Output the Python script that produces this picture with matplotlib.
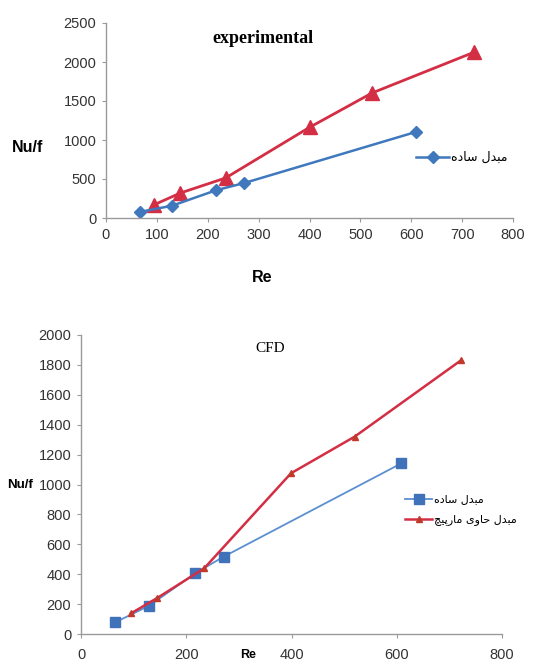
import matplotlib
matplotlib.use("Agg")
import matplotlib.pyplot as plt

# ---------------- data ----------------
exp_plain_re = [66, 130, 216, 272, 609]
exp_plain_nu = [77, 158, 355, 449, 1103]
exp_coil_re = [95, 146, 235, 400, 523, 723]
exp_coil_nu = [171, 320, 513, 1162, 1603, 2124]

cfd_plain_re = [65, 130, 217, 271, 609]
cfd_plain_nu = [78, 190, 406, 517, 1142]
cfd_coil_re = [95, 144, 234, 399, 520, 723]
cfd_coil_nu = [138, 239, 439, 1075, 1320, 1833]

label_plain = "مبدل ساده"
label_coil = "مبدل حاوی مارپیچ"
title_top = "experimental"
title_bottom = "CFD"
xlabel = "Re"
ylabel = "Nu/f"

top_xticks = [0, 100, 200, 300, 400, 500, 600, 700, 800]
top_yticks = [0, 500, 1000, 1500, 2000, 2500]
bot_xticks = [0, 200, 400, 600, 800]
bot_yticks = list(range(0, 2001, 200))

# ------------- Arabic/Persian shaping for display -------------
FORMS = {
    'ا': (0xFE8D, 0xFE8E, None, None),
    'ب': (0xFE8F, 0xFE90, 0xFE91, 0xFE92),
    'پ': (0xFB56, 0xFB57, 0xFB58, 0xFB59),
    'ج': (0xFE9D, 0xFE9E, 0xFE9F, 0xFEA0),
    'چ': (0xFB7A, 0xFB7B, 0xFB7C, 0xFB7D),
    'ح': (0xFEA1, 0xFEA2, 0xFEA3, 0xFEA4),
    'د': (0xFEA9, 0xFEAA, None, None),
    'ر': (0xFEAD, 0xFEAE, None, None),
    'س': (0xFEB1, 0xFEB2, 0xFEB3, 0xFEB4),
    'ل': (0xFEDD, 0xFEDE, 0xFEDF, 0xFEE0),
    'م': (0xFEE1, 0xFEE2, 0xFEE3, 0xFEE4),
    'ه': (0xFEE9, 0xFEEA, 0xFEEB, 0xFEEC),
    'و': (0xFEED, 0xFEEE, None, None),
    'ی': (0xFBFC, 0xFBFD, 0xFBFE, 0xFBFF),
}


def shape(text):
    out = []
    n = len(text)
    for i, ch in enumerate(text):
        if ch not in FORMS:
            out.append(ch)
            continue
        iso, fin, ini, med = FORMS[ch]
        prev = text[i - 1] if i > 0 else None
        nxt = text[i + 1] if i < n - 1 else None
        pj = prev in FORMS and FORMS[prev][2] is not None
        nj = nxt in FORMS and ini is not None
        if pj and nj:
            c = med
        elif pj:
            c = fin
        elif nj:
            c = ini
        else:
            c = iso
        out.append(chr(c))
    return "".join(out)[::-1]


# ---------------- figure ----------------
W, H = 557, 664
fig = plt.figure(figsize=(W / 100, H / 100), dpi=100)
fig.patch.set_facecolor("white")

tick_font = dict(family=["Liberation Sans", "DejaVu Sans"])
RED = "#d42e45"
BLUE = "#3f78bd"
SPINE = "#9a9a9a"


def style(ax):
    for s in ["top", "right"]:
        ax.spines[s].set_visible(False)
    for s in ["left", "bottom"]:
        ax.spines[s].set_color(SPINE)
        ax.spines[s].set_linewidth(1.0)
    ax.tick_params(axis="both", length=3, color=SPINE, labelcolor="#333333",
                   labelsize=10.5, pad=4)
    for lab in ax.get_xticklabels() + ax.get_yticklabels():
        lab.set_family(tick_font["family"])


# ---- top: experimental ----
ax1 = fig.add_axes([106 / W, 1 - 218 / H, 407 / W, 195 / H])
ax1.plot(exp_coil_re, exp_coil_nu, color=RED, lw=2.0, marker="^",
         markersize=10, markerfacecolor=RED, markeredgecolor=RED)
ax1.plot(exp_plain_re, exp_plain_nu, color=BLUE, lw=1.8, marker="D",
         markersize=6, markerfacecolor=BLUE, markeredgecolor=BLUE,
         label=shape(label_plain))
ax1.set_xlim(0, 800)
ax1.set_ylim(0, 2500)
ax1.set_xticks(top_xticks)
ax1.set_yticks(top_yticks)
style(ax1)
ax1.text(0.385, 0.92, title_top, transform=ax1.transAxes, ha="center",
         va="center", fontsize=13, fontweight="bold",
         family=["Liberation Serif", "DejaVu Serif"])
fig.text(28 / W, 1 - 148 / H, ylabel, ha="center", va="center",
         fontsize=11.5, fontweight="bold", family=["Liberation Sans", "DejaVu Sans"])
fig.text(262 / W, 1 - 277 / H, xlabel, ha="center", va="center",
         fontsize=11.5, fontweight="bold", family=["Liberation Sans", "DejaVu Sans"])
ax1.legend(loc="center left", bbox_to_anchor=(0.75, 0.31), frameon=False,
           prop=dict(family=["DejaVu Sans"], size=9), handlelength=2.6,
           handletextpad=0.2, borderaxespad=0)

# ---- bottom: CFD ----
ax2 = fig.add_axes([81 / W, 1 - 634 / H, 421 / W, 299 / H])
ax2.plot(cfd_plain_re, cfd_plain_nu, color="#5b8fd0", lw=1.3, marker="s",
         markersize=6.5, markerfacecolor="#3f72b8", markeredgecolor="#3f72b8",
         label=shape(label_plain))
ax2.plot(cfd_coil_re, cfd_coil_nu, color=RED, lw=1.8, marker="^",
         markersize=5, markerfacecolor="#c0392b", markeredgecolor="#c0392b",
         label=shape(label_coil))
ax2.set_xlim(0, 800)
ax2.set_ylim(0, 2000)
ax2.set_xticks(bot_xticks)
ax2.set_yticks(bot_yticks)
style(ax2)
ax2.tick_params(axis="x", pad=7)
ax2.text(0.45, 0.955, title_bottom, transform=ax2.transAxes, ha="center",
         va="center", fontsize=11, family=["Liberation Serif", "DejaVu Serif"])
fig.text(20 / W, 1 - 485 / H, ylabel, ha="center", va="center",
         fontsize=9.5, fontweight="bold", family=["Liberation Sans", "DejaVu Sans"])
fig.text(248 / W, 1 - 655 / H, xlabel, ha="center", va="center",
         fontsize=9, fontweight="bold", family=["Liberation Sans", "DejaVu Sans"])
ax2.legend(loc="center left", bbox_to_anchor=(0.76, 0.415), frameon=False,
           prop=dict(family=["DejaVu Sans"], size=8), handlelength=2.4,
           handletextpad=0.2, labelspacing=0.9, borderaxespad=0)

fig.savefig("out.png", dpi=100, facecolor="white")
